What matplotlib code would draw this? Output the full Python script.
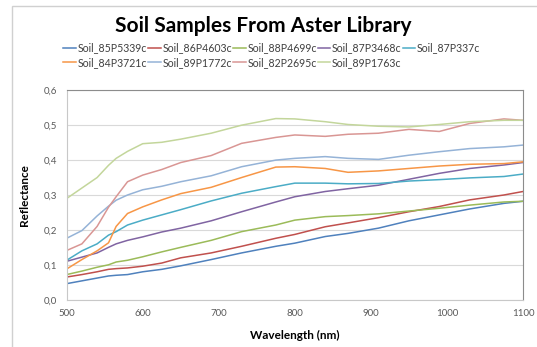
import matplotlib.pyplot as plt
from matplotlib.patches import Rectangle

wavelength = [500, 520, 540, 555, 565, 580, 600, 625, 650, 690, 730,
              775, 800, 840, 870, 910, 950, 990, 1030, 1075, 1100]

soil_85P5339c = [.046, .054, .062, .068, .070, .072, .080, .087, .097, .115, .134,
                 .153, .162, .181, .190, .205, .226, .243, .260, .276, .282]
soil_86P4603c = [.065, .072, .080, .087, .089, .091, .096, .105, .120, .134, .153,
                 .176, .187, .209, .220, .235, .252, .267, .286, .300, .310]
soil_88P4699c = [.072, .082, .093, .100, .108, .113, .123, .137, .150, .170, .195,
                 .214, .228, .238, .241, .246, .254, .262, .271, .280, .282]
soil_87P3468c = [.110, .122, .134, .150, .160, .170, .180, .194, .205, .226, .252,
                 .280, .295, .310, .318, .328, .345, .362, .376, .386, .393]
soil_87P337c = [.113, .140, .160, .185, .195, .214, .228, .243, .258, .283, .305,
                .324, .334, .334, .332, .333, .340, .344, .349, .353, .360]
soil_84P3721c = [.088, .115, .140, .163, .210, .247, .266, .286, .304, .322, .350,
                 .380, .381, .376, .365, .369, .376, .383, .388, .390, .395]
soil_89P1772c = [.176, .198, .240, .268, .285, .300, .315, .325, .338, .355, .381,
                 .400, .405, .410, .405, .402, .414, .424, .433, .438, .443]
soil_82P2695c = [.141, .160, .210, .265, .295, .338, .357, .373, .393, .413, .448,
                 .465, .472, .468, .474, .477, .488, .482, .505, .518, .514]
soil_89P1763c = [.290, .320, .350, .385, .405, .425, .447, .451, .460, .477, .500,
                 .519, .518, .510, .502, .497, .495, .502, .510, .514, .514]

names = ['Soil_85P5339c', 'Soil_86P4603c', 'Soil_88P4699c', 'Soil_87P3468c', 'Soil_87P337c',
         'Soil_84P3721c', 'Soil_89P1772c', 'Soil_82P2695c', 'Soil_89P1763c']
series = [soil_85P5339c, soil_86P4603c, soil_88P4699c, soil_87P3468c, soil_87P337c,
          soil_84P3721c, soil_89P1772c, soil_82P2695c, soil_89P1763c]
colors = ['#4F81BD', '#C0504D', '#9BBB59', '#8064A2', '#4BACC6',
          '#F79646', '#95B3D7', '#D99694', '#C3D69B']

plt.rcParams['font.family'] = ['Lato', 'DejaVu Sans']

fig = plt.figure(figsize=(5.37, 3.47), dpi=100)
ax = fig.add_axes([0.1242, 0.1363, 0.8496, 0.6035])

# outer chart frame
fig.patches.append(Rectangle((12 / 537, -0.1), 1.2, 1 - 6 / 347 + 0.1, transform=fig.transFigure,
                             fill=False, edgecolor='#D0D0D0', linewidth=1))

handles = []
for name, vals, c in zip(names, series, colors):
    h, = ax.plot(wavelength, vals, color=c, linewidth=1.1, label=name)
    handles.append(h)

ax.set_xlim(500, 1100)
ax.set_ylim(0, 0.6)
ax.set_xticks(range(500, 1101, 100))
ax.set_yticks([0, .1, .2, .3, .4, .5, .6])
ax.set_yticklabels(['0,0', '0,1', '0,2', '0,3', '0,4', '0,5', '0,6'])
ax.tick_params(length=0, labelsize=7, colors='#595959', pad=7)
ax.grid(axis='y', color='#D9D9D9', linewidth=0.8)
ax.set_axisbelow(True)
for side in ['top', 'right']:
    ax.spines[side].set_color('#8C8C8C')
for side in ['left', 'bottom']:
    ax.spines[side].set_color('#C8C8C8')

ax.set_xlabel('Wavelength (nm)', fontsize=8.5, fontweight='bold', labelpad=8)
ax.set_ylabel('Reflectance', fontsize=8.5, fontweight='bold', labelpad=10)

fig.text(0.49, 0.925, 'Soil Samples From Aster Library', ha='center', va='center',
         fontsize=15, fontweight='bold')

# reorder so the legend reads row by row
order = [0, 5, 1, 6, 2, 7, 3, 8, 4]
fig.legend([handles[i] for i in order], [names[i] for i in order], ncol=5,
           loc='upper left', bbox_to_anchor=(58 / 537, 1 - 37 / 347), frameon=False,
           fontsize=7.6, handlelength=1.2, handletextpad=0.15, columnspacing=0.1,
           labelspacing=0.35, borderpad=0, labelcolor='#404040')

fig.savefig('out.png', dpi=100)
